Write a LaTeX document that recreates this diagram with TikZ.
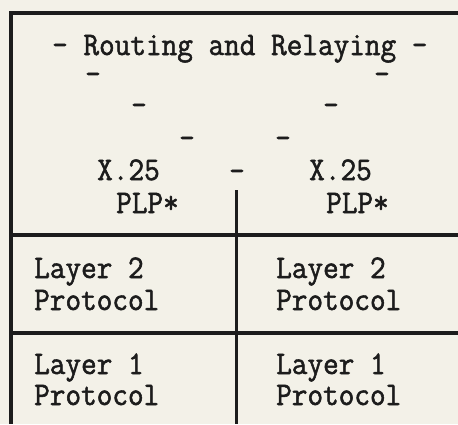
\documentclass[tikz,border=0pt]{standalone}
\usepackage{fontspec}
\newfontfamily\typew{Latin Modern Mono}[FakeBold=1.6,FakeStretch=0.92]
\definecolor{paper}{HTML}{F3F1E8}
\definecolor{ink}{HTML}{1C1C1C}
\begin{document}
\begin{tikzpicture}[x=1pt,y=-1pt,
  txt/.style={inner sep=0pt,anchor=base west,text=ink,font=\typew\fontsize{33}{38}\selectfont},
  dsh/.style={inner sep=0pt,anchor=base,text=ink,font=\typew\fontsize{33}{38}\selectfont},
  rule/.style={draw=ink,line width=3.4pt}]
\fill[paper] (0,0) rectangle (458,424);
\useasboundingbox (0,0) rectangle (458,424);
% frame
\coordinate (tl) at (11,13);
\coordinate (tr) at (458,13);
\coordinate (bl) at (11,424);
\coordinate (m1l) at (11,235);
\coordinate (m1r) at (458,235);
\coordinate (m2l) at (11,333);
\coordinate (m2r) at (458,333);
\coordinate (ct) at (236,190);
\coordinate (cb) at (236,424);
\draw[rule] (tr) -- (tl) -- (bl);
\draw[rule] (m1l) -- (m1r);
\draw[rule] (m2l) -- (m2r);
\draw[rule,line width=3pt] (ct) -- (cb);
% texts
\node[txt] (title) at (52,55) {- Routing and Relaying -};
\node[dsh] (d2l) at (93,84) {-};
\node[dsh] (d2r) at (382,84) {-};
\node[dsh] (d3l) at (139,115) {-};
\node[dsh] (d3r) at (331,115) {-};
\node[dsh] (d4l) at (187,148) {-};
\node[dsh] (d4r) at (283,148) {-};
\node[dsh] (dc) at (237,181) {-};
\node[txt] (xl) at (97,180) {X.25};
\node[txt] (xr) at (309,180) {X.25};
\node[txt] (pl) at (116,213) {PLP*};
\node[txt] (pr) at (326,213) {PLP*};
\node[txt] (l2l) at (34,278) {Layer 2};
\node[txt] (p2l) at (34,310) {Protocol};
\node[txt] (l2r) at (276,278) {Layer 2};
\node[txt] (p2r) at (276,310) {Protocol};
\node[txt] (l1l) at (34,374) {Layer 1};
\node[txt] (p1l) at (34,405) {Protocol};
\node[txt] (l1r) at (276,374) {Layer 1};
\node[txt] (p1r) at (276,405) {Protocol};
\end{tikzpicture}
\end{document}
